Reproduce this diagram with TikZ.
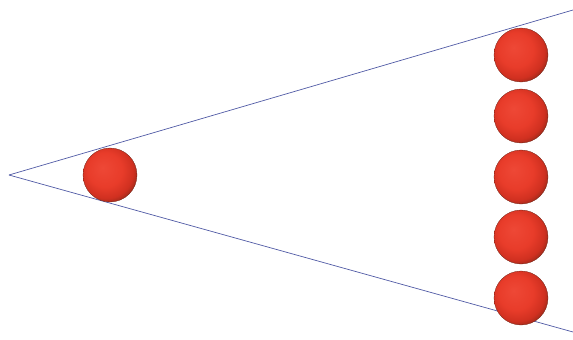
\documentclass[tikz,border=0pt]{standalone}
\definecolor{rc1}{RGB}{238,72,54}
\definecolor{rc2}{RGB}{232,60,42}
\definecolor{rc3}{RGB}{208,48,32}
\definecolor{rc4}{RGB}{140,40,24}
\definecolor{rc5}{RGB}{95,30,18}
\definecolor{linecol}{RGB}{80,90,165}
\pgfdeclareradialshading{redball}{\pgfpoint{-7bp}{7bp}}{%
  color(0bp)=(rc1); color(16bp)=(rc2); color(25bp)=(rc3);
  color(31bp)=(rc4); color(36bp)=(rc5); color(50bp)=(rc5)}
\tikzset{
  ball/.style={circle, minimum size=54pt, inner sep=0pt, shading=redball,
    draw=rc4!80!black, line width=0.3pt},
  ray/.style={draw=linecol, line width=0.7pt}
}
\begin{document}
\begin{tikzpicture}[x=1pt,y=-1pt]
\useasboundingbox (0,0) rectangle (573,340);
\coordinate (apex) at (9,175);
\coordinate (topend) at (573,10);
\coordinate (botend) at (573,332);
\draw[ray] (apex) -- (topend);
\draw[ray] (apex) -- (botend);
\node[ball] (near) at (110,175) {};
\node[ball] (f1) at (521,55) {};
\node[ball] (f2) at (521,116) {};
\node[ball] (f3) at (521,177) {};
\node[ball] (f4) at (521,237) {};
\node[ball] (f5) at (521,298) {};
\end{tikzpicture}
\end{document}
